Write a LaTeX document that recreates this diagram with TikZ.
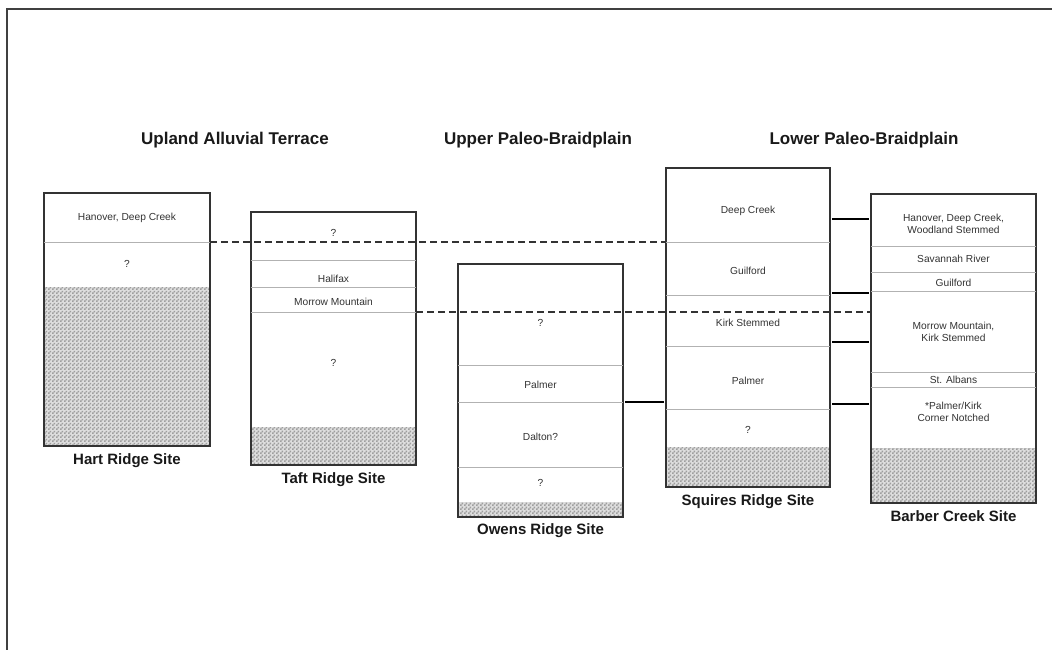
\documentclass[tikz,border=0pt]{standalone}
\usepackage{fontspec}
\setmainfont{Liberation Sans}
\usetikzlibrary{positioning,patterns,backgrounds}

\pgfdeclarepatternformonly{checker}{\pgfqpoint{0pt}{0pt}}{\pgfqpoint{4pt}{4pt}}{\pgfqpoint{4pt}{4pt}}{
    \pgfpathrectangle{\pgfqpoint{0pt}{0pt}}{\pgfqpoint{2pt}{2pt}}
    \pgfpathrectangle{\pgfqpoint{2pt}{2pt}}{\pgfqpoint{2pt}{2pt}}
    \pgfusepath{fill}}

\begin{document}
\begin{tikzpicture}[x=1pt, y=-1pt,
    site/.style={rectangle, draw=black!80, line width=1.2pt, inner sep=0pt, outer sep=0pt, anchor=north west},
    unit/.style={font=\fontsize{10.2}{11.5}\selectfont, text=black!80, align=center, inner sep=0pt},
    sitename/.style={font=\fontsize{15}{17}\selectfont\bfseries, text=black!90, inner sep=0pt, text height=10pt, text depth=3pt},
    zone/.style={font=\fontsize{17}{19}\selectfont\bfseries, text=black!90, inner sep=0pt},
    divide/.style={draw=black!30, line width=0.8pt},
    hatch/.style={pattern=checker, pattern color=black!38, preaction={fill=black!13}},
    corr/.style={draw=black!80, line width=1.3pt, dash pattern=on 7pt off 4pt},
    tie/.style={line width=2.2pt, shorten <=2pt, shorten >=2pt}]

    \useasboundingbox (0,0) rectangle (1052,650);

    \node [zone] (upland) at (235,140) {Upland Alluvial Terrace};
    \node [zone] (upper) at (538,140) {Upper Paleo-Braidplain};
    \node [zone] (lower) at (864,140) {Lower Paleo-Braidplain};

    \node [site, minimum width=166, minimum height=253] (hart) at (44,193) {};
    \node [site, minimum width=165, minimum height=253] (taft) at (251,212) {};
    \node [site, minimum width=165, minimum height=253] (owens) at (458,264) {};
    \node [site, minimum width=164, minimum height=319] (squires) at (666,168) {};
    \node [site, minimum width=165, minimum height=309] (barber) at (871,194) {};

    \begin{scope}[on background layer]
        \fill [white] (0,0) rectangle (1052,650);
        \fill [hatch] (hart.south west) rectangle (hart.east |- 0,287);
        \fill [hatch] (taft.south west) rectangle (taft.east |- 0,427);
        \fill [hatch] (owens.south west) rectangle (owens.east |- 0,502);
        \fill [hatch] (squires.south west) rectangle (squires.east |- 0,447);
        \fill [hatch] (barber.south west) rectangle (barber.east |- 0,448);
    \end{scope}

    \draw [divide] (hart.west |- 0,242) -- (hart.east |- 0,242);
    \foreach \y in {260,287,312}
        \draw [divide] (taft.west |- 0,\y) -- (taft.east |- 0,\y);
    \foreach \y in {365,402,467}
        \draw [divide] (owens.west |- 0,\y) -- (owens.east |- 0,\y);
    \foreach \y in {242,295,346,409}
        \draw [divide] (squires.west |- 0,\y) -- (squires.east |- 0,\y);
    \foreach \y in {246,272,291,372,387}
        \draw [divide] (barber.west |- 0,\y) -- (barber.east |- 0,\y);

    \node [unit] at (hart.center |- 0,218) {Hanover, Deep Creek};
    \node [unit] at (hart.center |- 0,264) {?};

    \node [unit] at (taft.center |- 0,233) {?};
    \node [unit] at (taft.center |- 0,279) {Halifax};
    \node [unit] at (taft.center |- 0,302) {Morrow Mountain};
    \node [unit] at (taft.center |- 0,363) {?};

    \node [unit] at (owens.center |- 0,323) {?};
    \node [unit] at (owens.center |- 0,385) {Palmer};
    \node [unit] at (owens.center |- 0,437) {Dalton?};
    \node [unit] at (owens.center |- 0,483) {?};

    \node [unit] at (squires.center |- 0,211) {Deep Creek};
    \node [unit] at (squires.center |- 0,271) {Guilford};
    \node [unit] at (squires.center |- 0,323) {Kirk Stemmed};
    \node [unit] at (squires.center |- 0,381) {Palmer};
    \node [unit] at (squires.center |- 0,430) {?};

    \node [unit] at (barber.center |- 0,224) {Hanover, Deep Creek,\\Woodland Stemmed};
    \node [unit] at (barber.center |- 0,259) {Savannah River};
    \node [unit] at (barber.center |- 0,283) {Guilford};
    \node [unit] at (barber.center |- 0,332) {Morrow Mountain,\\Kirk Stemmed};
    \node [unit] at (barber.center |- 0,380) {St. Albans};
    \node [unit] at (barber.center |- 0,412) {*Palmer/Kirk\\Corner Notched};

    \node [sitename, below=8pt of hart] (hartname) {Hart Ridge Site};
    \node [sitename, below=8pt of taft] (taftname) {Taft Ridge Site};
    \node [sitename, below=7pt of owens] (owensname) {Owens Ridge Site};
    \node [sitename, below=8pt of squires] (squiresname) {Squires Ridge Site};
    \node [sitename, below=8pt of barber] (barbername) {Barber Creek Site};

    \draw [corr] (hart.east |- 0,242) -- (squires.west |- 0,242);
    \draw [corr] (taft.east |- 0,312) -- (barber.west |- 0,312);

    \draw [tie] (owens.east |- 0,402) -- (squires.west |- 0,402);
    \foreach \y in {219,293,342,404}
        \draw [tie] (squires.east |- 0,\y) -- (barber.west |- 0,\y);

    \draw [draw=black!75, line width=2pt] (7,650) -- (7,9) -- (1052,9);
\end{tikzpicture}
\end{document}
